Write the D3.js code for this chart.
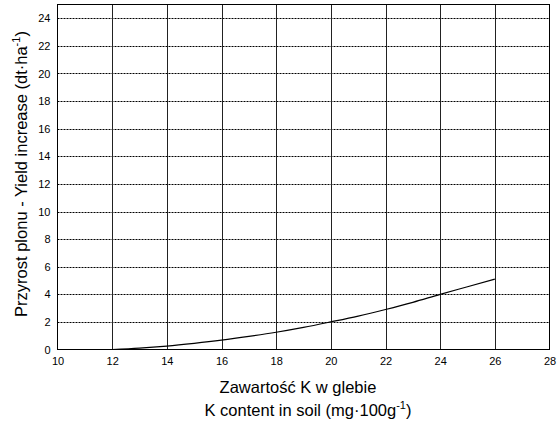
<!DOCTYPE html>
<html><head><meta charset="utf-8">
<script src="https://cdn.jsdelivr.net/npm/d3@7"></script>
<style>body{margin:0;background:#fff}text{font-family:"Liberation Sans",Arial,sans-serif}</style>
</head><body><svg id="c" width="557" height="424"></svg>
<script>
const kContent = [12,13,14,15,16,17,18,19,20,21,22,23,24,25,26];
const yieldIncrease = [0,0.1,0.25,0.45,0.68,0.95,1.25,1.6,2.0,2.42,2.9,3.42,4.0,4.55,5.1];
const xTicks = [10,12,14,16,18,20,22,24,26,28];
const yTicks = [0,2,4,6,8,10,12,14,16,18,20,22,24];

const svg = d3.select("#c");
const L=57.5, R=549.5, T=4.5, B=349.5;
const x = d3.scaleLinear().domain([10,28]).range([L,R]);
const y = d3.scaleLinear().domain([0,25]).range([B,T]);

// horizontal dotted grid
svg.append("g").selectAll("line").data(yTicks.filter(d=>d>0)).join("line")
  .attr("x1",L).attr("x2",R).attr("y1",d=>Math.round(y(d))+0.5).attr("y2",d=>Math.round(y(d))+0.5)
  .attr("stroke","#000").attr("stroke-width",1).attr("stroke-dasharray","2,1");
// vertical grid
svg.append("g").selectAll("line").data(xTicks.filter(d=>d>10&&d<28)).join("line")
  .attr("x1",d=>Math.round(x(d))+0.5).attr("x2",d=>Math.round(x(d))+0.5).attr("y1",T).attr("y2",B)
  .attr("stroke","#222").attr("stroke-width",1);
// frame
svg.append("rect").attr("x",L).attr("y",T).attr("width",R-L).attr("height",B-T)
  .attr("fill","none").attr("stroke","#000").attr("stroke-width",1);

// axes labels via d3 axes
const xa = svg.append("g").attr("transform",`translate(0,${B})`)
  .call(d3.axisBottom(x).tickValues(xTicks).tickSize(0).tickPadding(8));
xa.select(".domain").remove();
xa.selectAll("text").attr("font-size",11).attr("fill","#000").attr("font-family","Liberation Sans, Arial, sans-serif");
const ya = svg.append("g").attr("transform",`translate(${L},0)`)
  .call(d3.axisLeft(y).tickValues(yTicks).tickSize(0).tickPadding(7));
ya.select(".domain").remove();
ya.selectAll("text").attr("font-size",11).attr("fill","#000").attr("font-family","Liberation Sans, Arial, sans-serif");

// curve
svg.append("path").datum(kContent.map((k,i)=>[k,yieldIncrease[i]]))
  .attr("d",d3.line().x(d=>x(d[0])).y(d=>y(d[1])).curve(d3.curveMonotoneX))
  .attr("fill","none").attr("stroke","#000").attr("stroke-width",1.2);

// titles
svg.append("text").attr("x",298).attr("y",393).attr("text-anchor","middle").attr("font-size",16.5).text("Zawartość K w glebie");
const t2 = svg.append("text").attr("x",308).attr("y",416).attr("text-anchor","middle").attr("font-size",16.5);
t2.append("tspan").text("K content in soil (mg·100g");
t2.append("tspan").attr("dy",-7).attr("font-size",11).text("-1");
t2.append("tspan").attr("dy",7).text(")");

const yl = svg.append("text").attr("transform",`translate(27,174) rotate(-90)`).attr("text-anchor","middle").attr("font-size",16.5);
yl.append("tspan").text("Przyrost plonu - Yield increase (dt·ha");
yl.append("tspan").attr("dy",-7).attr("font-size",11).text("-1");
yl.append("tspan").attr("dy",7).text(")");
</script></body></html>
